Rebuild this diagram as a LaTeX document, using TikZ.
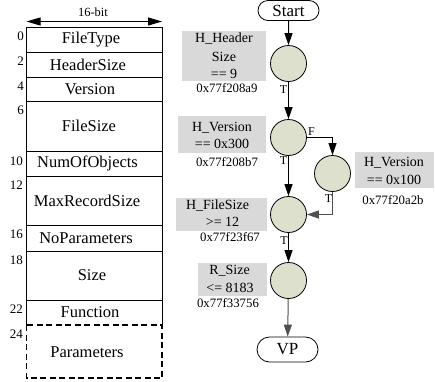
\documentclass[tikz,border=0pt]{standalone}
\usepackage{fontspec}
\setmainfont{Liberation Serif}
\usetikzlibrary{arrows.meta,shapes.misc}
\definecolor{circfill}{RGB}{221,224,204}
\definecolor{boxgray}{RGB}{217,217,217}
\definecolor{linegray}{RGB}{80,80,80}
\tikzset{
  fld/.style={font=\fontsize{16.5}{18}\selectfont, inner sep=0pt},
  off/.style={font=\fontsize{13}{14}\selectfont, inner sep=0pt, anchor=east},
  cond/.style={draw=black, line width=0.8pt, fill=circfill, circle, minimum size=36pt, inner sep=0pt},
  term/.style={draw=black, line width=0.8pt, rounded rectangle, minimum width=61pt, minimum height=20pt, inner sep=0pt, font=\fontsize{17}{18}\selectfont},
  gbox/.style={fill=boxgray, draw=none},
  gtxt/.style={font=\fontsize{14}{15}\selectfont, inner sep=0pt},
  addr/.style={font=\fontsize{12.8}{14}\selectfont, inner sep=0pt},
  lbl/.style={font=\fontsize{12}{13}\selectfont, inner sep=0pt},
  flow/.style={line width=1pt, -{Triangle[length=12pt,width=8pt]}},
  tline/.style={line width=0.8pt}
}
\begin{document}
\begin{tikzpicture}[x=1pt,y=-1pt]
\useasboundingbox (0,0) rectangle (435,381);
% ---------- table ----------
\draw[tline] (26.5,27) -- (26.5,325) (162,27) -- (162,325);
\foreach \yy in {27,52,77,101,151,176,225,251,300}{
  \draw[tline] (26.5,\yy) -- (162,\yy);
}
\draw[tline, dashed, dash pattern=on 6pt off 3.5pt, line width=1.3pt] (26.5,325) rectangle (162,378);
\draw[line width=1pt, {Triangle[length=14pt,width=8pt]}-{Triangle[length=14pt,width=8pt]}] (26.5,21.5) -- (162,21.5);
\node[lbl, font=\fontsize{12.5}{13}\selectfont] (bits) at (93,12.5) {16-bit};
\node[fld] (f1) at (91,39.5) {FileType};
\node[fld] (f2) at (88,64.5) {HeaderSize};
\node[fld] (f3) at (90,89) {Version};
\node[fld] (f4) at (89,126) {FileSize};
\node[fld] (f5) at (87.5,163.5) {NumOfObjects};
\node[fld] (f6) at (87,200.5) {MaxRecordSize};
\node[fld] (f7) at (86,238) {NoParameters};
\node[fld] (f8) at (92,275.5) {Size};
\node[fld] (f9) at (90,312.5) {Function};
\node[fld] (f10) at (87,352) {Parameters};
\node[off] (o0) at (24,36) {0};
\node[off] (o2) at (24,61) {2};
\node[off] (o4) at (24,86) {4};
\node[off] (o6) at (24,110) {6};
\node[off] (o10) at (23,161) {10};
\node[off] (o12) at (23,185) {12};
\node[off] (o16) at (23,234) {16};
\node[off] (o18) at (23,260) {18};
\node[off] (o22) at (23,309) {22};
\node[off] (o24) at (23,334) {24};
% ---------- flowchart ----------
\node[term] (start) at (288.5,10.5) {Start};
\node[term, minimum height=25pt] (vp) at (287.5,349.5) {VP};
\node[cond] (c1) at (288.5,63.5) {};
\node[cond] (c2) at (288.5,137.5) {};
\node[cond] (c3) at (332.5,173.5) {};
\node[cond] (c4) at (288.5,214.5) {};
\node[cond] (c5) at (288.5,280.5) {};
\draw[flow] (start) -- (c1);
\draw[flow] (c1) -- (c2);
\draw[flow] (c2) -- (c4);
\draw[flow] (c2.east) -| (c3.north);
\draw[flow, draw=linegray] (c3.south) |- (c4.east);
\draw[flow] (c4) -- (c5);
\draw[flow, draw=linegray] (c5) -- (vp);
\node[lbl] (t1) at (283.5,90) {T};
\node[lbl] (t2) at (283.5,161) {T};
\node[lbl] (ff) at (311.5,132) {F};
\node[lbl] (t3) at (328.5,199) {T};
\node[lbl] (t4) at (284,241) {T};
% ---------- gray condition boxes ----------
\fill[gbox] (181.5,31) rectangle (266,81);
\node[gtxt] (b1a) at (224,38.5) {H\_Header};
\node[gtxt] (b1b) at (224,57) {Size};
\node[gtxt] (b1c) at (224,73.5) {== 9};
\node[addr] (a1) at (227,88.5) {0x77f208a9};
\fill[gbox] (177.5,115.5) rectangle (266,153);
\node[gtxt] (b2a) at (222,127.5) {H\_Version};
\node[gtxt] (b2b) at (222,144) {== 0x300};
\node[addr] (a2) at (227,162.5) {0x77f208b7};
\fill[gbox] (355,152) rectangle (434,188);
\node[gtxt] (b3a) at (394,162.5) {H\_Version};
\node[gtxt] (b3b) at (394,180) {== 0x100};
\node[addr] (a3) at (393,200) {0x77f20a2b};
\fill[gbox] (176,198) rectangle (267,231);
\node[gtxt] (b4a) at (217.5,206) {H\_FileSize};
\node[gtxt] (b4b) at (222.5,222) {>= 12};
\node[addr] (a4) at (230,237.5) {0x77f23f67};
\fill[gbox] (198,263) rectangle (267,296);
\node[gtxt] (b5a) at (229.5,271) {R\_Size};
\node[gtxt] (b5b) at (230,288) {<= 8183};
\node[addr] (a5) at (228,303.5) {0x77f33756};
\end{tikzpicture}
\end{document}
